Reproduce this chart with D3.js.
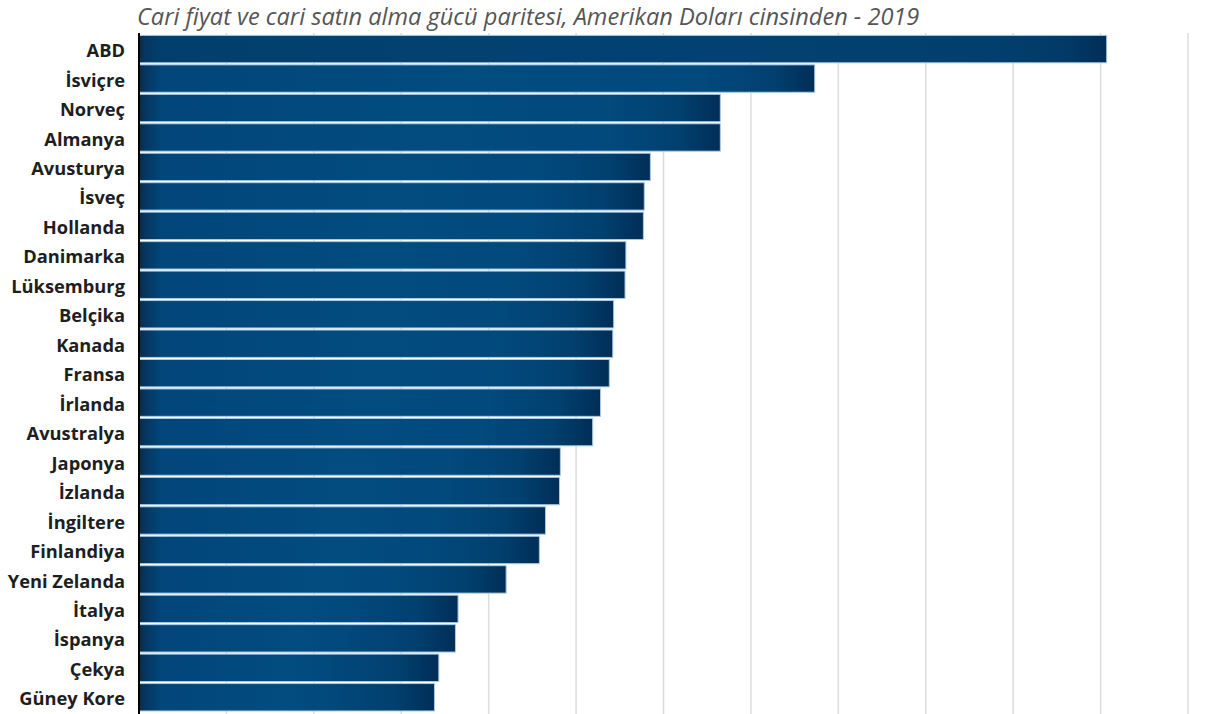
<!DOCTYPE html>
<html>
<head>
<meta charset="utf-8">
<script src="https://cdn.jsdelivr.net/npm/d3@7"></script>
<style>
  html, body { margin: 0; padding: 0; background: #fff; }
  svg { display: block; }
</style>
</head>
<body>
<svg id="chart" width="1205" height="714"></svg>
<script>
const countries = ["ABD","İsviçre","Norveç","Almanya","Avusturya","İsveç","Hollanda","Danimarka","Lüksemburg","Belçika","Kanada","Fransa","İrlanda","Avustralya","Japonya","İzlanda","İngiltere","Finlandiya","Yeni Zelanda","İtalya","İspanya","Çekya","Güney Kore"];
const values = [11070,7730,6650,6650,5850,5780,5770,5570,5560,5430,5420,5380,5280,5190,4820,4810,4650,4580,4200,3650,3620,3430,3380];
const xTicks = [0,1000,2000,3000,4000,5000,6000,7000,8000,9000,10000,11000,12000];
const title = "Cari fiyat ve cari satın alma gücü paritesi, Amerikan Doları cinsinden - 2019";

const svg = d3.select("#chart");
const W = 1205, H = 714;
const x = d3.scaleLinear().domain([0, 12000]).range([139, 1188]);
const step = 29.45;
const y = d3.scaleBand().domain(countries).range([34.5, 34.5 + step * countries.length]).paddingInner(0.07).paddingOuter(0.03);

const defs = svg.append("defs");
countries.forEach((c, i) => {
  const w = x(values[i]) - x(0);
  const g = defs.append("linearGradient").attr("id", "barGrad" + i)
    .attr("x1", "0%").attr("x2", "100%").attr("y1", "0%").attr("y2", "0%");
  const top = i === 0;
  const stops = [
    [0, "#0a2a48"],
    [6 / w, "#06365f"],
    [22 / w, top ? "#023f6d" : "#02467a"],
    [0.5, top ? "#024272" : "#024c7f"],
    [Math.max(0.5, 1 - 110 / w), top ? "#023f6e" : "#02497c"],
    [1 - 40 / w, top ? "#023a66" : "#01406f"],
    [1, "#012e57"]
  ];
  stops.forEach(([o, col]) => g.append("stop").attr("offset", o).attr("stop-color", col));
});

// gridlines
svg.append("g").selectAll("line").data(xTicks.slice(1)).join("line")
  .attr("x1", d => x(d)).attr("x2", d => x(d))
  .attr("y1", 33).attr("y2", H)
  .attr("stroke", "#dcdcdc").attr("stroke-width", 1.5);

// bars
svg.append("g").selectAll("rect").data(countries).join("rect")
  .attr("x", x(0))
  .attr("y", d => y(d))
  .attr("width", (d,i) => x(values[i]) - x(0))
  .attr("height", y.bandwidth())
  .attr("fill", (d,i) => "url(#barGrad" + i + ")")
  .attr("stroke", "#a8cbe6").attr("stroke-width", 1);

// axis line
svg.append("line").attr("x1", 139).attr("x2", 139).attr("y1", 33).attr("y2", H)
  .attr("stroke", "#000").attr("stroke-width", 2);

// labels
svg.append("g").selectAll("text").data(countries).join("text")
  .attr("x", 125)
  .attr("y", d => y(d) + y.bandwidth()/2 + 1.5)
  .attr("dy", "0.36em")
  .attr("text-anchor", "end")
  .attr("font-family", "'Open Sans', sans-serif")
  .attr("font-weight", 700)
  .attr("font-size", 18.3)
  .attr("fill", "#1e1e1e")
  .text(d => d);

// title
svg.append("text").attr("x", 137).attr("y", 25)
  .attr("font-family", "'Open Sans', sans-serif")
  .attr("font-style", "italic")
  .attr("font-size", 23.6)
  .attr("fill", "#555")
  .text(title);
</script>
</body>
</html>
